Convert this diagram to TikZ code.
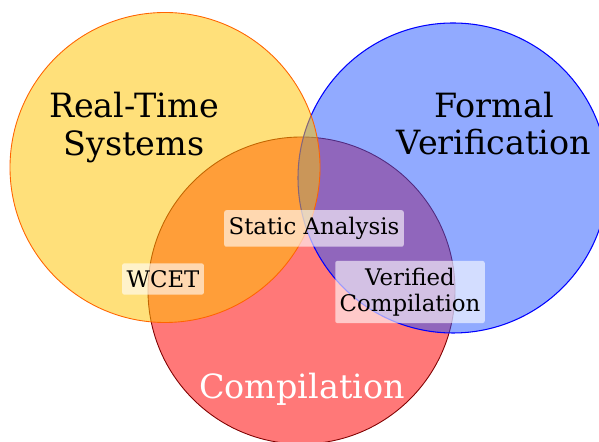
\documentclass[tikz,border=0pt]{standalone}
\usepackage{fontspec}
\setmainfont{DejaVu Serif}
\definecolor{rtsyellow}{RGB}{255,195,0}
\definecolor{rtsedge}{RGB}{255,100,0}
\definecolor{fvblue}{RGB}{35,85,255}
\definecolor{compred}{RGB}{255,0,0}
\definecolor{compedge}{RGB}{128,0,0}
\tikzset{
  bigtext/.style={font=\fontsize{19}{21.5}\selectfont, align=center},
  tagbox/.style={font=\fontsize{13}{14.8}\selectfont, align=center, fill=white, fill opacity=0.6, text opacity=1, rounded corners=1.2pt, inner xsep=2.5pt, inner ysep=4pt}
}
\begin{document}
\begin{tikzpicture}
\useasboundingbox (0,0) rectangle (11.98,8.84);
\draw[compedge, line width=0.5pt, fill=compred, fill opacity=0.53] (6.03,3.03) circle (3.07);
\draw[blue, line width=0.6pt, fill=fvblue, fill opacity=0.5] (9.06,5.28) circle (3.10);
\draw[rtsedge, line width=0.5pt, fill=rtsyellow, fill opacity=0.52] (3.30,5.49) circle (3.10);

\node[bigtext] (rts) at (2.68,6.29) {Real-Time\\Systems};
\node[bigtext] (fv) at (9.88,6.37) {Formal\\Verification};
\node[bigtext, text=white, anchor=base] (comp) at (6.04,0.86) {Compilation};

\node[tagbox] (sa) at (6.28,4.27) {Static Analysis};
\node[tagbox] (wcet) at (3.26,3.26) {WCET};
\node[tagbox] (vc) at (8.20,3.00) {Verified\\Compilation};
\end{tikzpicture}
\end{document}
